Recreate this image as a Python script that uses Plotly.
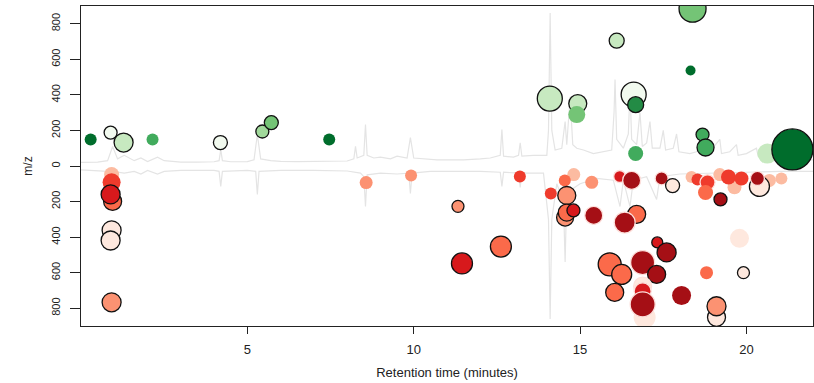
import plotly.graph_objects as go

# ---------------- data ----------------
# positive-mode features (plotted upward)
pos_rt   = [0.29, 0.89, 1.28, 2.15, 4.19, 5.45, 5.72, 7.46, 14.09, 14.93, 14.90, 16.10, 16.61, 16.67, 16.67, 18.38, 18.32, 18.68, 18.77, 20.63, 21.38]
pos_mz   = [149, 188, 132, 149, 132, 194, 244, 149, 379, 351, 289, 705, 402, 345, 70, 885, 537, 177, 104, 70, 93]
pos_size = [12, 13, 19, 12, 14, 13, 14, 12, 25, 18, 17, 15, 25, 16, 15, 27, 10, 13, 17, 20, 41]
pos_col  = [6, 0, 1, 4, 0, 2, 3, 6, 1, 1, 3, 1, 0, 5, 4, 3, 6, 4, 4, 1, 6]
pos_edge = ["n", "k", "k", "n", "k", "k", "k", "n", "k", "k", "n", "k", "k", "k", "n", "k", "n", "k", "k", "n", "k"]

# negative-mode features (plotted downward)
neg_rt   = [0.92, 0.92, 0.95, 0.89, 0.92, 0.89, 0.92, 8.57, 9.92, 13.19, 14.12, 11.33, 11.45, 12.62,
            14.81, 14.54, 15.35, 16.19, 16.55, 17.45, 17.78, 14.60, 14.55, 14.60, 14.80, 15.41, 16.70,
            16.34, 17.32, 17.60, 15.89, 16.25, 16.04, 16.88, 17.30, 16.88, 16.88, 16.94, 16.88, 18.05,
            18.35, 18.53, 19.20, 19.64, 20.69, 21.05, 20.39, 18.83, 19.46, 19.85, 20.33, 18.77, 19.22,
            19.79, 18.80, 19.91, 19.10, 19.10]
neg_mz   = [48, 92, 199, 160, 362, 419, 767, 93, 53, 59, 155, 227, 548, 453,
            48, 81, 92, 59, 81, 70, 110, 166, 290, 262, 250, 278, 272,
            318, 430, 486, 553, 610, 711, 543, 610, 676, 705, 851, 778, 728,
            62, 76, 48, 120, 81, 70, 115, 92, 62, 70, 70, 149, 188,
            407, 600, 600, 851, 789]
neg_size = [15, 18, 18, 19, 19, 19, 19, 13, 12, 12, 12, 12, 21, 21,
            13, 12, 13, 12, 18, 13, 14, 18, 17, 17, 13, 18, 18,
            21, 11, 19, 23, 20, 18, 24, 18, 18, 17, 22, 25, 19,
            12, 12, 13, 14, 13, 12, 20, 15, 15, 14, 14, 15, 13,
            19, 13, 12, 18, 19]
neg_col  = [1, 4, 3, 5, 0, 0, 2, 2, 2, 4, 4, 2, 5, 3,
            1, 3, 2, 5, 6, 6, 0, 2, 2, 3, 5, 6, 3,
            6, 5, 6, 3, 3, 3, 6, 6, 0, 5, 0, 6, 6,
            1, 4, 1, 1, 1, 1, 0, 4, 4, 4, 6, 3, 6,
            0, 3, 0, 0, 2]
neg_edge = ["n", "n", "k", "k", "k", "k", "k", "n", "n", "n", "n", "k", "k", "k",
            "n", "n", "n", "w", "w", "w", "k", "k", "k", "k", "k", "w", "k",
            "w", "k", "k", "k", "k", "k", "w", "k", "w", "w", "n", "w", "n",
            "n", "n", "n", "n", "n", "n", "k", "w", "n", "n", "w", "n", "k",
            "n", "n", "k", "k", "k"]

# total ion chromatograms (background traces)
tic_pos_t = [0.0, 0.5, 0.8, 0.95, 1.1, 1.3, 1.6, 1.8, 2.0, 2.3, 2.5, 2.7, 3.0, 3.5, 4.0, 4.15, 4.2, 4.25, 4.5,
             5.0, 5.2, 5.3, 5.4, 5.7, 6.0, 6.5, 7.0, 7.5, 8.0, 8.2, 8.25, 8.3, 8.5, 8.55, 8.6, 8.8, 9.0, 9.3,
             9.5, 9.8, 9.9, 10.0, 10.3, 10.7, 11.0, 11.5, 12.0, 12.3, 12.6, 12.65, 12.7, 13.0, 13.15, 13.2,
             13.25, 13.6, 14.0, 14.05, 14.1, 14.15, 14.25, 14.45, 14.55, 14.6, 14.7, 14.78, 14.9, 15.1, 15.4,
             15.7, 15.95, 16.02, 16.05, 16.1, 16.3, 16.45, 16.5, 16.55, 16.7, 16.8, 16.87, 17.0, 17.1, 17.17,
             17.4, 17.5, 17.57, 17.8, 17.9, 17.97, 18.3, 18.5, 18.8, 18.85, 19.2, 19.25, 19.5, 19.7, 19.75,
             20.0, 20.3, 20.35, 20.6, 21.0, 21.5, 22.0]
tic_pos_v = [20, 22, 30, 110, 40, 60, 30, 45, 25, 50, 30, 28, 22, 22, 24, 30, 92, 30, 24,
             25, 35, 177, 40, 30, 26, 25, 25, 26, 28, 40, 110, 45, 60, 233, 60, 45, 50, 40,
             55, 45, 160, 45, 40, 35, 35, 35, 40, 45, 60, 205, 55, 50, 60, 130,
             55, 60, 60, 200, 860, 200, 90, 100, 250, 120, 390, 120, 100, 90, 70,
             80, 90, 300, 486, 150, 100, 180, 430, 150, 120, 300, 110, 130, 250, 100,
             100, 200, 90, 100, 180, 80, 70, 80, 140, 70, 150, 70, 80, 120, 60,
             70, 100, 55, 60, 50, 40, 35]

tic_neg_t = [0.0, 0.5, 0.8, 0.95, 1.1, 1.3, 1.6, 1.8, 2.0, 2.3, 2.5, 3.0, 4.0, 4.15, 4.2, 4.25, 5.0, 5.25,
             5.3, 5.35, 6.0, 7.0, 8.0, 8.4, 8.5, 8.55, 8.6, 9.0, 9.5, 9.85, 9.9, 9.95, 10.5, 11.0, 12.0,
             12.6, 12.65, 12.7, 13.15, 13.2, 13.25, 13.9, 14.05, 14.1, 14.15, 14.3, 14.5, 14.55, 14.6,
             15.0, 15.5, 16.0, 16.2, 16.3, 16.5, 16.6, 17.0, 17.3, 17.4, 18.0, 19.0, 20.0, 21.0, 22.0]
tic_neg_v = [22, 25, 30, 75, 35, 40, 30, 45, 25, 45, 30, 25, 25, 30, 115, 30, 25, 30,
             160, 30, 25, 25, 28, 40, 60, 228, 50, 40, 45, 40, 155, 40, 30, 30, 30,
             35, 115, 35, 40, 120, 40, 40, 300, 860, 300, 100, 200, 540, 150,
             100, 70, 80, 228, 80, 228, 80, 60, 188, 60, 45, 40, 35, 30, 30]

y_ticks = [-800, -600, -400, -200, 0, 200, 400, 600, 800]
x_ticks = [5, 10, 15, 20]

greens = ["#f2faef", "#c7e9c0", "#a1d99b", "#74c476", "#41ab5d", "#238b45", "#006d2c"]
reds   = ["#fee8de", "#fcbba1", "#fc9272", "#fb6a4a", "#ef3b2c", "#d7191c", "#a50f15"]
edge_map = {"k": "#111111", "n": "rgba(0,0,0,0)", "w": "#fde0dc"}

fig = go.Figure()

fig.add_trace(go.Scatter(x=tic_pos_t, y=tic_pos_v, mode="lines",
                         line=dict(color="#e4e4e4", width=1.2), hoverinfo="skip"))
fig.add_trace(go.Scatter(x=tic_neg_t, y=[-v for v in tic_neg_v], mode="lines",
                         line=dict(color="#e4e4e4", width=1.2), hoverinfo="skip"))

fig.add_trace(go.Scatter(
    x=pos_rt, y=pos_mz, mode="markers",
    marker=dict(size=pos_size, color=[greens[c] for c in pos_col], opacity=1,
                line=dict(color=[edge_map[e] for e in pos_edge], width=1.3)),
))
fig.add_trace(go.Scatter(
    x=neg_rt, y=[-m for m in neg_mz], mode="markers",
    marker=dict(size=neg_size, color=[reds[c] for c in neg_col], opacity=1,
                line=dict(color=[edge_map[e] for e in neg_edge], width=1.3)),
))

font = dict(family="Liberation Sans, Arial, sans-serif", size=12, color="#222222")
fig.update_layout(
    width=814, height=383,
    margin=dict(l=81, r=1, t=6, b=57),
    paper_bgcolor="white", plot_bgcolor="white",
    showlegend=False, font=font,
    xaxis=dict(range=[0, 22], tickvals=x_ticks, ticktext=[str(v) for v in x_ticks],
               ticks="outside", ticklen=7, tickcolor="#222", showgrid=False, zeroline=False,
               showline=True, linecolor="#222", linewidth=1, mirror=True,
               ticklabelstandoff=4, tickfont=dict(size=13),
               title=dict(text="Retention time (minutes)", standoff=12, font=dict(size=13))),
    yaxis=dict(range=[-900, 900], tickvals=y_ticks, ticktext=[str(abs(v)) for v in y_ticks],
               ticks="outside", ticklen=10, tickcolor="#222", tickangle=-90, showgrid=False,
               zeroline=False, showline=True, linecolor="#222", linewidth=1, mirror=True,
               ticklabelstandoff=6, tickfont=dict(size=11),
               title=dict(text="m/z", standoff=14, font=dict(size=12))),
)

fig.write_html("out.html")
